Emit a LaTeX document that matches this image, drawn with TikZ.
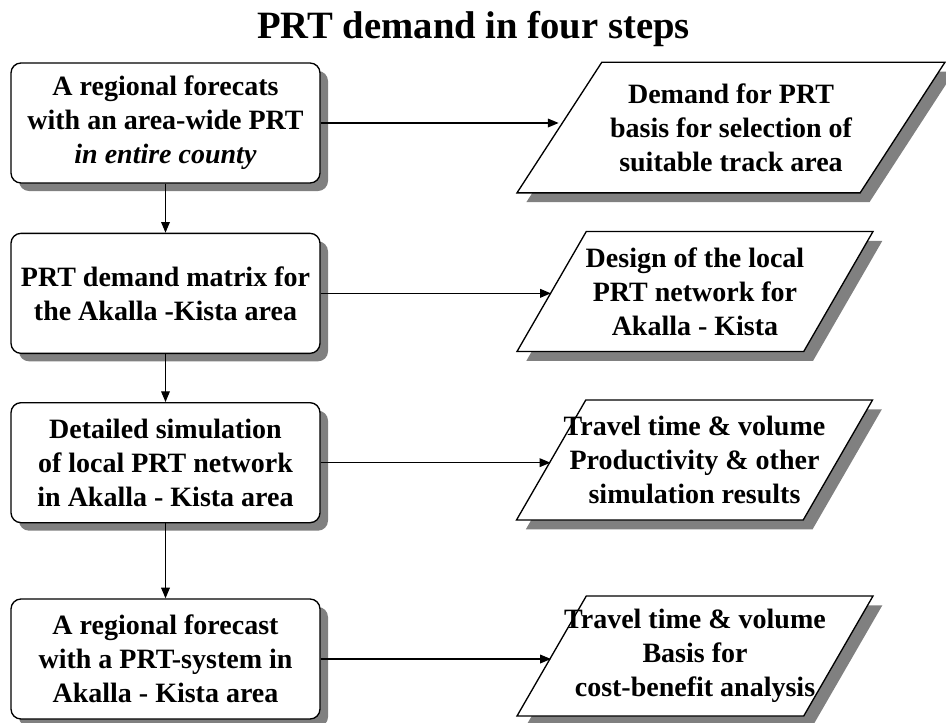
\documentclass[tikz,border=0pt]{standalone}
\usepackage{fontspec}
\setmainfont{Liberation Serif}
\usetikzlibrary{positioning,arrows.meta,shapes.geometric,shadows}

\begin{document}
\begin{tikzpicture}[x=0.75pt,y=-0.75pt,
        stepbox/.style={draw,line width=1pt,rounded corners=7.5pt,fill=white,align=center,
                    font=\fontsize{21}{25.5}\selectfont\bfseries,
                    minimum width=231.75pt,minimum height=90pt,inner sep=0pt,
                    drop shadow={shadow xshift=6pt,shadow yshift=-6pt,fill=black!50,opacity=1}},
        outbox/.style={draw,line width=1pt,fill=white,trapezium,trapezium stretches body=true,
                    trapezium left angle=60,trapezium right angle=120,
                    minimum width=267pt,inner xsep=0pt,inner ysep=45pt,
                    drop shadow={shadow xshift=7pt,shadow yshift=-7pt,fill=black!50,opacity=1}},
        outtext/.style={align=center,font=\fontsize{21}{25.5}\selectfont\bfseries,inner sep=0pt},
        arr/.style={-{Triangle[length=8pt,width=6.5pt]},line width=0.9pt}]
    \useasboundingbox (0,0) rectangle (946,722);
    \node[font=\fontsize{29}{30}\selectfont\bfseries,anchor=base] (title) at (473.5,38)
        {PRT demand in four steps};
    % the four steps
    \node[stepbox] (b1) at (165.5,123) {A regional forecats\\with an area-wide PRT\\\textit{in entire county}};
    \node[stepbox,below=36.75pt of b1] (b2) {PRT demand matrix for\\the Akalla -Kista area};
    \node[stepbox,below=36pt of b2] (b3) {Detailed simulation\\of local PRT network\\in Akalla - Kista area};
    \node[stepbox,below=56.25pt of b3] (b4) {A regional forecast\\with a PRT-system in\\Akalla - Kista area};
    % what each step gives
    \node[outbox,trapezium left angle=57,trapezium right angle=123,
          minimum width=321pt,inner ysep=49pt] (p1) at (731,127.5) {};
    \node[outbox] (p2) at (695,291.5) {};
    \node[outbox] (p3) at (694.5,460) {};
    \node[outbox] (p4) at (695,656) {};
    \node[outtext] (p1t) at (p1) {Demand for PRT\\basis for selection of\\suitable track area};
    \node[outtext] (p2t) at (p2) {Design of the local\\PRT network for\\Akalla - Kista};
    \node[outtext] (p3t) at (p3) {Travel time \& volume\\Productivity \& other\\simulation results};
    \node[outtext] (p4t) at (p4) {Travel time \& volume\\Basis for\\cost-benefit analysis};
    \draw[arr] (b1) -- (b2);
    \draw[arr] (b2) -- (b3);
    \draw[arr] (b3) -- (b4);
    \draw[arr] (b1.east) -- (b1.east -| p1.west);
    \draw[arr] (b2.east) -- (b2.east -| p2.west);
    \draw[arr] (b3.east) -- (b3.east -| p3.west);
    \draw[arr] (b4.east) -- (b4.east -| p4.west);
\end{tikzpicture}
\end{document}
